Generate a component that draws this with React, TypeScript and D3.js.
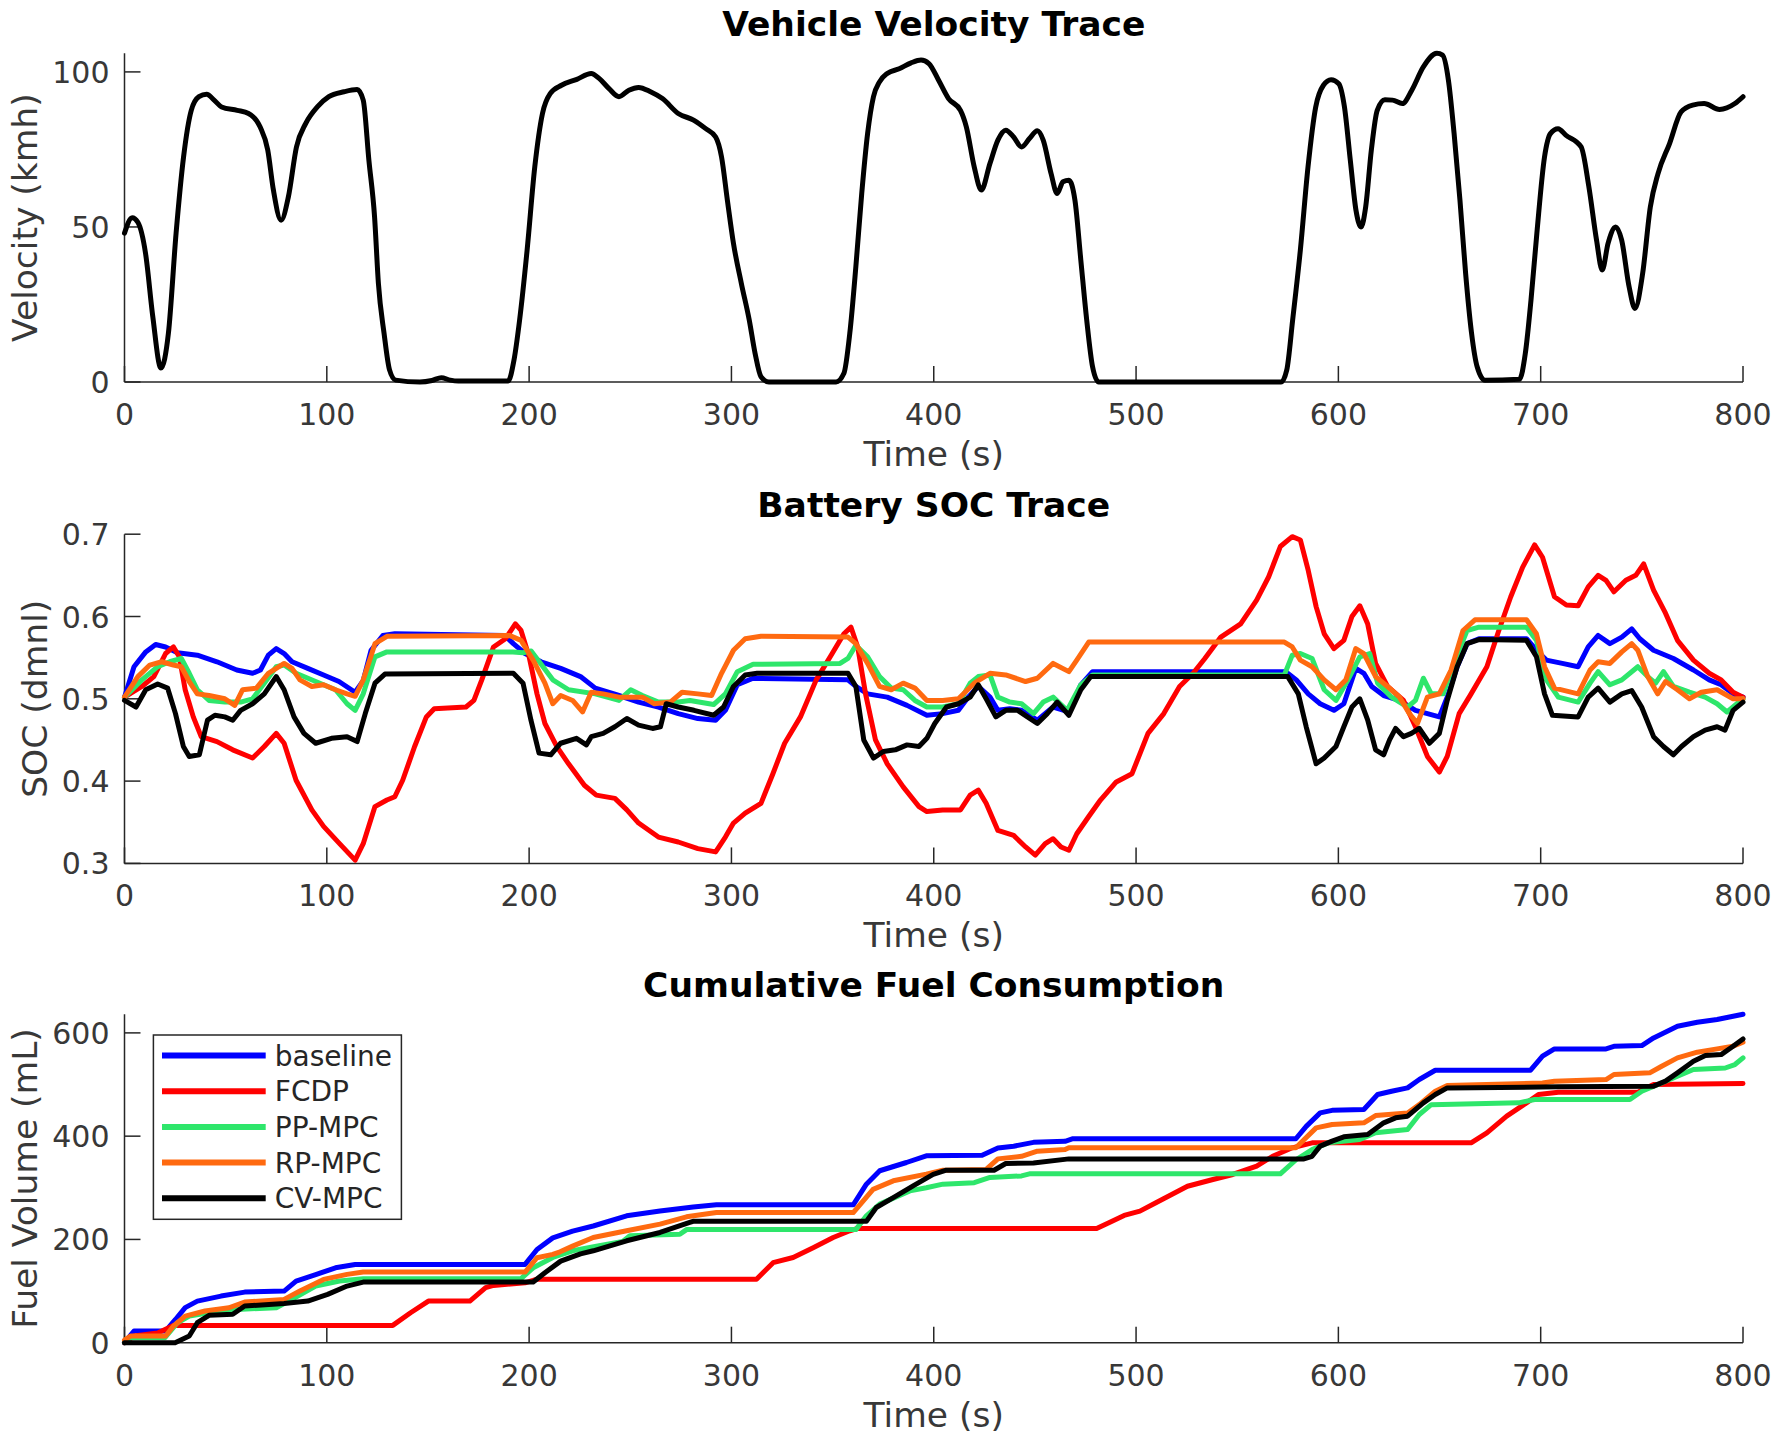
import * as d3 from 'd3';

type Pt = [number, number];

// ---- data ----
const timeTicks = [0, 100, 200, 300, 400, 500, 600, 700, 800];
const velocityTicks = [0, 50, 100];
const socTicks = [0.3, 0.4, 0.5, 0.6, 0.7];
const fuelTicks = [0, 200, 400, 600];
const seriesNames = ['baseline', 'FCDP', 'PP-MPC', 'RP-MPC', 'CV-MPC'];

const velocity: Pt[] = [
  [0, 48], [3.8, 53], [6.6, 51.5], [10.4, 41.5], [14, 21], [18, 4.5], [21.7, 15.7], [25.5, 48], [29.2, 72.6],
  [33, 87.6], [36.8, 92], [40.6, 92.8], [44.3, 90.9], [48, 88.7], [55.7, 87.6], [61.3, 86.6], [67, 82.3],
  [70.8, 74.8], [73.6, 61.9], [77.4, 52.2], [81, 59.7], [85, 75.8], [89.6, 83.4], [95.3, 88.7], [101, 92],
  [108.5, 93.6], [115, 94.3], [118, 90.9], [120.8, 71.5], [123.6, 53.3], [125.5, 31.8], [128.3, 15.7],
  [131, 3.9], [134, 0.6], [146, 0], [152, 0.5], [156.6, 1.4], [161, 0.6], [165, 0.3], [189.6, 0.3],
  [192.5, 7], [195.3, 20], [199, 42.5], [202.8, 69.4], [206.6, 86.6], [210.4, 93], [216, 95.7], [223.6, 97.6],
  [230.7, 99.5], [234.6, 97.9], [239.5, 94.6], [244.4, 92], [249.3, 94.1], [254.1, 95], [260, 93.6],
  [265.9, 91.4], [273.7, 86.6], [281.5, 84.4], [287.3, 81.7], [292.2, 79], [295.1, 72.6], [298, 58.6],
  [301, 44.7], [304.9, 31.8], [308.8, 20], [311.7, 9.2], [314.6, 1.7], [318.5, 0], [351.7, 0], [355.6, 2.8],
  [358.5, 15.7], [361.5, 37.2], [364.4, 60.8], [367.3, 80.1], [370.2, 92], [373.2, 96.8], [377, 99.5],
  [382.9, 101], [388.8, 102.9], [393.7, 103.8], [397.6, 102.7], [402.4, 97.3], [407.3, 91.4], [413.2, 87.6],
  [416.1, 82.3], [420, 69.4], [423.5, 61.9], [427.8, 70.5], [431.7, 78], [435.6, 81.2], [439.5, 79],
  [443.4, 75.8], [447.3, 78.5], [451.2, 81], [454.1, 78], [458, 67.2], [461, 60.8], [463.9, 64.6],
  [466.8, 65.1], [469.8, 58.6], [472.7, 39.3], [475.6, 20], [478.5, 4.9], [481.5, 0], [571.7, 0],
  [574.5, 3.9], [577.4, 20], [581.2, 42.5], [585, 69.4], [588.8, 88.7], [592.6, 95.7], [596.4, 97.5],
  [600.2, 96.2], [603, 88.7], [605.9, 71.5], [608.7, 55.4], [611.2, 50], [613.5, 56.5], [616.3, 74.8],
  [619.2, 87.6], [623, 91], [626.8, 90.9], [631.6, 89.8], [636.3, 94.1], [642, 101.6], [648.7, 106],
  [651.5, 105.4], [654.4, 97.3], [657.2, 80.1], [660.1, 58.6], [662.9, 35], [665.8, 15.9], [668.6, 4.9],
  [672.4, 0.6], [689.5, 0.9], [692.4, 9.2], [695.2, 26.4], [698.1, 47.9], [701.9, 72.6], [704.8, 80.1],
  [708.6, 81.7], [712.4, 79.6], [720, 75.8], [723.8, 63], [727.6, 45.8], [730.4, 36.1], [733.3, 44.7],
  [737.1, 50], [740, 45.8], [743.7, 30.7], [746.6, 23.7], [750.4, 35], [754.2, 56.5], [758, 67.2],
  [763.7, 76.9], [769.4, 87.1], [775.1, 89.3], [780.8, 89.8], [788.4, 87.9], [796, 89.8], [800, 92],
];

const socBaseline: Pt[] = [
  [0, 0.502], [4.7, 0.539], [10.5, 0.557], [15.4, 0.566], [20.3, 0.563], [26.2, 0.556], [36, 0.553],
  [45.7, 0.545], [55.5, 0.535], [63.3, 0.531], [67.2, 0.535], [71.1, 0.553], [75, 0.561], [78.9, 0.555],
  [82.8, 0.545], [90.6, 0.537], [98.4, 0.529], [106, 0.521], [114, 0.508], [118, 0.522], [121.9, 0.559],
  [127.7, 0.577], [133.6, 0.579], [188, 0.577], [192.2, 0.567], [198, 0.555], [205.9, 0.545], [215.6, 0.537],
  [225.4, 0.527], [232.7, 0.513], [244.4, 0.504], [254.1, 0.496], [263.9, 0.49], [273.7, 0.482],
  [283.4, 0.476], [292.2, 0.474], [297, 0.486], [302.9, 0.517], [310.7, 0.525], [357.6, 0.523],
  [361.5, 0.515], [367.3, 0.506], [377, 0.502], [386.8, 0.492], [396.6, 0.48], [404.4, 0.482],
  [412.2, 0.486], [417, 0.502], [422, 0.515], [427.8, 0.502], [431.7, 0.486], [437.6, 0.488],
  [443.4, 0.486], [451.2, 0.474], [459, 0.49], [466.8, 0.484], [472.7, 0.517], [478.5, 0.533], [574, 0.533],
  [579.2, 0.523], [585.1, 0.506], [591, 0.494], [597.8, 0.486], [602.7, 0.494], [608.6, 0.537],
  [612.6, 0.531], [616.5, 0.515], [622.4, 0.504], [630.2, 0.498], [638.1, 0.486], [644, 0.482],
  [649.9, 0.478], [653.8, 0.502], [658.7, 0.539], [663.6, 0.567], [669.5, 0.573], [693, 0.573],
  [697.9, 0.559], [702.8, 0.547], [710.7, 0.543], [718.5, 0.539], [723.5, 0.563], [728.4, 0.577],
  [734.2, 0.567], [740.1, 0.575], [745, 0.585], [749, 0.573], [755.8, 0.559], [765.6, 0.549],
  [775.5, 0.535], [783.3, 0.523], [789.2, 0.517], [795.1, 0.506], [800, 0.502],
];

const socFcdp: Pt[] = [
  [0, 0.502], [8.6, 0.515], [14.5, 0.527], [20.3, 0.555], [24.2, 0.563], [27.1, 0.551], [30, 0.511],
  [34, 0.478], [37.9, 0.454], [45.7, 0.448], [53.5, 0.438], [63.3, 0.428], [69.1, 0.442], [75, 0.458],
  [78.9, 0.446], [84.8, 0.401], [92.6, 0.365], [98.4, 0.345], [106.3, 0.324], [114, 0.304], [118, 0.324],
  [123.8, 0.369], [129.7, 0.377], [133.6, 0.381], [137.5, 0.401], [143.4, 0.442], [149.2, 0.478],
  [153.1, 0.488], [168.8, 0.49], [172.7, 0.498], [176.6, 0.523], [182.4, 0.563], [188.3, 0.573],
  [193.2, 0.591], [196, 0.583], [200, 0.551], [203.9, 0.506], [207.8, 0.47], [213.7, 0.442], [219.5, 0.421],
  [227.3, 0.395], [233.2, 0.383], [242.4, 0.379], [248.3, 0.365], [254.1, 0.349], [263.9, 0.332],
  [273.7, 0.326], [283.4, 0.318], [292.2, 0.314], [297, 0.332], [301, 0.349], [306.8, 0.361], [314.6, 0.373],
  [320.5, 0.409], [326.3, 0.446], [334.1, 0.478], [341.9, 0.523], [349.8, 0.555], [355.6, 0.579],
  [359.1, 0.587], [362.4, 0.563], [366.3, 0.506], [371.2, 0.45], [377, 0.421], [384.9, 0.393],
  [392.7, 0.369], [396.6, 0.363], [404.4, 0.365], [413.2, 0.365], [418, 0.383], [422, 0.389], [425.9, 0.373],
  [431.7, 0.34], [439.5, 0.334], [445.4, 0.32], [450.2, 0.31], [455.1, 0.324], [459, 0.33], [462.9, 0.32],
  [466.8, 0.316], [470.7, 0.336], [476.6, 0.357], [482.4, 0.377], [490.2, 0.399], [498, 0.409],
  [505.9, 0.458], [513.7, 0.482], [521.5, 0.515], [528.2, 0.531], [534, 0.549], [541.9, 0.575],
  [551.7, 0.591], [559.6, 0.62], [565.5, 0.648], [571.3, 0.685], [577.2, 0.697], [581.2, 0.693],
  [585.1, 0.656], [589, 0.612], [593, 0.579], [597.8, 0.561], [602.7, 0.571], [606.7, 0.6], [610.6, 0.613],
  [614.5, 0.591], [618.4, 0.543], [624.3, 0.515], [632.2, 0.498], [638.1, 0.466], [644, 0.43],
  [649.9, 0.411], [653.8, 0.43], [659.7, 0.482], [665.6, 0.506], [673.4, 0.539], [679.3, 0.583],
  [685.2, 0.624], [691.1, 0.66], [697, 0.687], [700.9, 0.672], [706.8, 0.624], [712.7, 0.614],
  [718.5, 0.613], [723.5, 0.636], [728.4, 0.65], [732.3, 0.644], [736.2, 0.63], [742.1, 0.644], [747, 0.65],
  [750.9, 0.664], [755.8, 0.632], [761.7, 0.604], [767.6, 0.571], [775.5, 0.547], [783.3, 0.531],
  [789.2, 0.523], [795.1, 0.508], [800, 0.502],
];

const socPp: Pt[] = [
  [0, 0.502], [8.6, 0.523], [16.4, 0.539], [22.3, 0.545], [28.1, 0.549], [32, 0.531], [36, 0.511],
  [41.8, 0.498], [49.6, 0.496], [57.4, 0.496], [63.3, 0.5], [69.1, 0.519], [75, 0.539], [78.9, 0.541],
  [84.8, 0.531], [94.5, 0.521], [104.3, 0.511], [110, 0.494], [114, 0.486], [118, 0.506], [123.8, 0.551],
  [129.7, 0.557], [192, 0.557], [197, 0.556], [201, 0.558], [205, 0.545], [211.7, 0.523], [219.5, 0.511],
  [232.7, 0.506], [244.4, 0.498], [250.2, 0.511], [256, 0.504], [263.9, 0.496], [273.7, 0.496],
  [279.5, 0.498], [291.2, 0.493], [297, 0.506], [302.9, 0.533], [310.7, 0.542], [353.7, 0.543],
  [357.6, 0.549], [361.5, 0.565], [367.3, 0.551], [373.2, 0.527], [379, 0.513], [384.9, 0.511],
  [390.7, 0.498], [396.6, 0.49], [404.4, 0.49], [412.2, 0.494], [418, 0.519], [422, 0.527], [427.8, 0.529],
  [431.7, 0.502], [437.6, 0.496], [443.4, 0.494], [449.3, 0.482], [454.1, 0.496], [459, 0.502],
  [465.9, 0.486], [472.7, 0.517], [478.5, 0.529], [573.3, 0.529], [577.2, 0.553], [581.2, 0.555],
  [587, 0.549], [593, 0.511], [598.8, 0.498], [604.7, 0.523], [610.6, 0.551], [615.5, 0.555],
  [619.4, 0.519], [626.3, 0.502], [634.2, 0.49], [638.1, 0.498], [642, 0.525], [645.9, 0.506],
  [651.8, 0.506], [657.7, 0.547], [663.6, 0.583], [669.5, 0.587], [693, 0.587], [697.9, 0.571],
  [702.8, 0.523], [708.7, 0.502], [718.5, 0.496], [724.4, 0.519], [728.4, 0.533], [734.2, 0.517],
  [740.1, 0.523], [748, 0.539], [752.9, 0.527], [756.8, 0.519], [760.7, 0.533], [765.6, 0.515],
  [773.5, 0.508], [781.3, 0.502], [787.2, 0.494], [792.1, 0.484], [797, 0.494], [800, 0.5],
];

const socRp: Pt[] = [
  [0, 0.502], [6.6, 0.527], [12.5, 0.541], [18.4, 0.545], [24.2, 0.541], [28.1, 0.539], [32, 0.521],
  [36, 0.506], [41.8, 0.504], [49.6, 0.5], [54.5, 0.492], [58.4, 0.511], [65.2, 0.513], [71.1, 0.531],
  [78.9, 0.543], [82.8, 0.537], [86.7, 0.523], [92.6, 0.515], [98.4, 0.517], [104.3, 0.511], [110, 0.506],
  [114, 0.503], [118, 0.523], [123.8, 0.567], [129.7, 0.576], [190.2, 0.577], [196, 0.571], [202, 0.547],
  [207.8, 0.519], [211.7, 0.494], [215.6, 0.504], [221.5, 0.498], [226.4, 0.484], [230.7, 0.508],
  [236.6, 0.506], [244.4, 0.502], [256, 0.502], [261.9, 0.494], [269.8, 0.496], [275.6, 0.508],
  [283.4, 0.506], [290.2, 0.504], [295.1, 0.531], [301, 0.559], [306.8, 0.573], [314.6, 0.576],
  [357.6, 0.575], [361.5, 0.567], [367.3, 0.543], [373.2, 0.515], [379, 0.511], [384.9, 0.519],
  [390.7, 0.513], [396.6, 0.498], [404.4, 0.498], [412.2, 0.5], [420, 0.519], [427.8, 0.531],
  [435.6, 0.529], [445.4, 0.521], [451.2, 0.525], [459, 0.543], [466.8, 0.533], [470.7, 0.547],
  [476.6, 0.569], [573.3, 0.569], [577.2, 0.563], [581.2, 0.547], [587, 0.539], [593, 0.523],
  [598.8, 0.511], [603.7, 0.523], [608.6, 0.561], [612.6, 0.555], [618.4, 0.527], [624.3, 0.515],
  [630.2, 0.502], [635.1, 0.482], [639.1, 0.47], [644, 0.502], [649.9, 0.506], [655.7, 0.535],
  [661.6, 0.583], [667.5, 0.596], [693, 0.596], [697.9, 0.579], [701.9, 0.539], [706.8, 0.513],
  [718.5, 0.506], [724.4, 0.535], [728.4, 0.545], [734.2, 0.543], [740.1, 0.557], [745, 0.567],
  [748, 0.559], [752.9, 0.527], [757.8, 0.506], [761.7, 0.521], [767.6, 0.511], [773.5, 0.5],
  [779.4, 0.508], [787.2, 0.511], [795.1, 0.5], [800, 0.5],
];

const socCv: Pt[] = [
  [0, 0.498], [5.7, 0.49], [10.5, 0.511], [16.4, 0.518], [21.3, 0.513], [25.2, 0.482], [29.1, 0.442],
  [32, 0.43], [37, 0.432], [41, 0.474], [44.7, 0.48], [49.6, 0.478], [53.5, 0.474], [57.4, 0.486],
  [63.3, 0.494], [69.1, 0.506], [75, 0.527], [78.9, 0.511], [83.8, 0.478], [88.7, 0.458], [94.5, 0.446],
  [102.3, 0.452], [110, 0.454], [115, 0.448], [119, 0.482], [123.8, 0.519], [128.7, 0.53], [192.2, 0.531],
  [197, 0.519], [200.9, 0.474], [204.9, 0.434], [210.7, 0.432], [215.6, 0.446], [223.4, 0.452],
  [228.3, 0.444], [230.7, 0.454], [236.6, 0.458], [242.4, 0.466], [248.3, 0.476], [254.1, 0.468],
  [261, 0.464], [264.9, 0.466], [267.8, 0.494], [273.7, 0.49], [281.5, 0.486], [291.2, 0.48],
  [296.1, 0.49], [301, 0.515], [306.8, 0.529], [312.7, 0.531], [357.6, 0.531], [361.5, 0.515],
  [365.4, 0.45], [370.2, 0.428], [375.1, 0.436], [381, 0.438], [386.8, 0.444], [392.7, 0.442],
  [396.6, 0.452], [400.5, 0.47], [406.3, 0.49], [412.2, 0.494], [418, 0.502], [422, 0.517], [425.9, 0.5],
  [430.7, 0.478], [435.6, 0.486], [441.5, 0.486], [446.3, 0.478], [451.2, 0.47], [456.1, 0.482],
  [461, 0.496], [466.8, 0.48], [472.7, 0.511], [477.6, 0.527], [575, 0.527], [580.2, 0.506],
  [584.1, 0.466], [589, 0.421], [593, 0.428], [598.8, 0.442], [602.7, 0.466], [606.7, 0.49],
  [610.6, 0.5], [614.5, 0.474], [618.4, 0.438], [622.4, 0.432], [625.3, 0.45], [628.3, 0.464],
  [632.2, 0.454], [636.1, 0.458], [640, 0.464], [645, 0.446], [649.9, 0.458], [653.8, 0.498],
  [658.7, 0.539], [663.6, 0.567], [669.5, 0.572], [693, 0.571], [697.9, 0.551], [701.9, 0.506],
  [705.8, 0.48], [718.5, 0.478], [723.5, 0.502], [728.4, 0.513], [734.2, 0.496], [740.1, 0.506],
  [745, 0.51], [749.9, 0.49], [755.8, 0.454], [760.7, 0.442], [765.6, 0.432], [769.6, 0.442],
  [775.5, 0.454], [781.3, 0.462], [787.2, 0.466], [791.1, 0.462], [795.1, 0.486], [800, 0.496],
];

const fuelBaseline: Pt[] = [
  [0, 0], [4.7, 22.6], [20.3, 22.6], [25.2, 45], [30, 68], [36, 80.6], [47.7, 90.3], [59.4, 98], [78.9, 100],
  [84.8, 119.4], [94.5, 132], [104.3, 145], [114, 151.6], [198, 151.6], [203.9, 180.6], [211.7, 203],
  [221.5, 216], [231.7, 226], [248.2, 245.7], [264.7, 255], [281.1, 263], [292.6, 267], [360.2, 267],
  [366.7, 307], [373.3, 333], [386.5, 349], [396.3, 362], [423.9, 363], [431.7, 377], [439.5, 380.6],
  [449.3, 388], [464.9, 390], [468.8, 395], [579, 395], [584.1, 419], [591, 445], [596.9, 450],
  [612.6, 451.6], [619.4, 480.6], [626.3, 487], [634.2, 493.5], [640, 509.7], [647.9, 527.7], [695, 527.7],
  [700.9, 554.8], [706.8, 569], [732.3, 569], [736.2, 574], [750, 575.5], [755.8, 590.3], [767.6, 613],
  [777.4, 620.6], [787.2, 625.8], [800, 636],
];

const fuelFcdp: Pt[] = [
  [0, 0], [4.7, 13], [16.4, 19], [24.2, 33.5], [132.6, 33.5], [141.4, 58], [150.2, 80.6], [170.7, 80.6],
  [178.5, 106.5], [182.4, 111], [198, 116], [203.9, 123], [312.4, 123], [320.6, 155], [330.5, 165],
  [340.4, 184], [350.3, 203.7], [358.5, 216.7], [362, 221], [480.5, 221], [486.3, 232], [494.1, 246.5],
  [501.9, 254.8], [509.8, 271], [517.6, 287], [525.4, 303], [538, 316], [547.8, 325.8], [559.6, 342],
  [567.5, 361], [577.2, 377.4], [587, 387], [665.6, 387], [673.4, 406.5], [683.2, 438.7], [693, 464.5],
  [698.9, 480.6], [708.7, 485], [748, 485], [755.8, 500], [800, 502],
];

const fuelPp: Pt[] = [
  [0, 0], [3, 9.7], [20, 9.7], [26.2, 38.7], [32, 51.6], [41.8, 58], [55.5, 64.5], [75, 67.7], [82.8, 83.9],
  [94.5, 109.7], [106.3, 119.4], [118, 123.9], [196, 123.9], [202, 145], [211.7, 165], [221.5, 178],
  [234.6, 188], [246.3, 196], [249.8, 207], [274.5, 210], [277.8, 219], [361.5, 219], [366.7, 245.7],
  [373.3, 268.4], [388.2, 294], [396.3, 300], [404.5, 307], [420, 310], [427.8, 320], [443.4, 323],
  [447.3, 327], [571.3, 327], [579.2, 354.8], [587, 374], [594.9, 387], [610.6, 393.5], [618.4, 406.5],
  [634.2, 413], [640, 442], [645.9, 461], [689.1, 464.5], [697, 471], [744.1, 471], [750, 487],
  [759.8, 503], [767.6, 516], [775.5, 529], [791.2, 532], [796, 538.7], [800, 551.6],
];

const fuelRp: Pt[] = [
  [0, 5], [3, 12.9], [20.3, 12.9], [24.2, 32.3], [30, 51.6], [39.8, 61.3], [51.6, 67.7], [59.4, 78.7],
  [78.9, 83.9], [86.7, 100], [98.4, 122.6], [110, 132.3], [118, 136.8], [198, 136.8], [203.9, 164.5],
  [211.7, 171], [215.3, 176], [221.5, 187], [231.7, 203.8], [248.2, 216.7], [264.7, 229.6], [277.8, 243.8],
  [292.6, 252], [360.2, 252], [370, 297], [380, 313.5], [396.3, 326.4], [404.5, 334], [425.9, 335.5],
  [431.7, 356], [443.4, 361], [451.2, 371], [464.9, 374], [466.8, 377.4], [579, 377.4], [583.1, 393.5],
  [589, 416], [596.9, 422.6], [612.6, 425.8], [618.4, 440], [634.2, 445], [640, 461], [647.9, 487],
  [653.8, 498], [700.9, 503], [706.8, 506.5], [732.3, 509.7], [736.2, 519.4], [753.9, 522.6],
  [759.8, 535.5], [767.6, 551.6], [777.4, 562.6], [787.2, 569], [795.1, 574], [800, 582],
];

const fuelCv: Pt[] = [
  [0, 0], [25, 0], [32, 13], [36, 38.7], [41.8, 53], [53.5, 55], [59.4, 71], [78.9, 76], [90.6, 80.6],
  [100.4, 93.5], [110, 109.7], [118, 117.4], [202, 117.4], [207.8, 135.5], [215.6, 158], [225.4, 172],
  [231.7, 178], [248.2, 197.4], [264.7, 213.5], [279.4, 232.8], [281, 235], [366.7, 235], [371.6, 261.8],
  [380, 281], [389.8, 303.8], [399.7, 326], [406.2, 334], [429.8, 334], [435.6, 347], [449.3, 348],
  [466.8, 356], [583, 356], [587, 361], [591, 380.6], [596.9, 390.3], [602.7, 398.7], [614.5, 403],
  [622.4, 425.8], [628.3, 435.5], [634.2, 438.7], [642, 464.5], [647.9, 480.6], [653.8, 493.5],
  [708.7, 495.5], [755.8, 496.8], [761.7, 506.5], [767.6, 522.6], [775.5, 545], [781.4, 556],
  [789.2, 558], [795.1, 574], [800, 588.4],
];

// ---- layout / style ----
const W = 1784;
const H = 1446;
const LEFT = 124.5;
const RIGHT = 1743;
const FONT = '"DejaVu Sans", Verdana, sans-serif';
const AXIS = '#262626';
const COLORS = ['#0000ff', '#ff0000', '#2ee66b', '#ff6a10', '#000000'];
const LW = 5;
const TICK = 16;

const x = d3.scaleLinear().domain([0, 800]).range([LEFT, RIGHT]);

interface PanelCfg {
  top: number;
  bottom: number;
  domain: [number, number];
  ticks: number[];
  fmt: (v: number) => string;
  title: string;
  ylabel: string;
  ylabelX: number;
  series: { data: Pt[]; color: string }[];
  curve: d3.CurveFactory;
}

function Panel({ cfg }: { cfg: PanelCfg }) {
  const y = d3.scaleLinear().domain(cfg.domain).range([cfg.bottom, cfg.top]);
  const line = d3.line<Pt>()
    .x(d => x(d[0]))
    .y(d => y(d[1]))
    .curve(cfg.curve);
  const cx = (LEFT + RIGHT) / 2;
  const cy = (cfg.top + cfg.bottom) / 2;

  return (
    <g>
      {/* axes */}
      <line x1={LEFT} x2={LEFT} y1={cfg.top} y2={cfg.bottom} stroke={AXIS} strokeWidth={1.5} />
      <line x1={LEFT} x2={RIGHT} y1={cfg.bottom} y2={cfg.bottom} stroke={AXIS} strokeWidth={1.5} />
      {timeTicks.map(t => (
        <g key={'x' + t}>
          <line x1={x(t)} x2={x(t)} y1={cfg.bottom} y2={cfg.bottom - TICK} stroke={AXIS} strokeWidth={1.5} />
          <text x={x(t)} y={cfg.bottom + 43} textAnchor="middle" fontSize={30} fill="#383838" fontFamily={FONT}>{t}</text>
        </g>
      ))}
      {cfg.ticks.map(v => (
        <g key={'y' + v}>
          <line x1={LEFT} x2={LEFT + TICK} y1={y(v)} y2={y(v)} stroke={AXIS} strokeWidth={1.5} />
          <text x={LEFT - 15} y={y(v) + 11} textAnchor="end" fontSize={30} fill="#383838" fontFamily={FONT}>{cfg.fmt(v)}</text>
        </g>
      ))}
      {/* data */}
      {cfg.series.map((s, i) => (
        <path key={i} d={line(s.data) ?? ''} fill="none" stroke={s.color} strokeWidth={LW}
          strokeLinejoin="round" strokeLinecap="round" />
      ))}
      {/* labels */}
      <text x={cx} y={cfg.top - 17} textAnchor="middle" fontSize={34.5} fontWeight="bold" fill="#000" fontFamily={FONT}>{cfg.title}</text>
      <text x={cx} y={cfg.bottom + 84} textAnchor="middle" fontSize={34.5} fill="#383838" fontFamily={FONT}>Time (s)</text>
      <text transform={`translate(${cfg.ylabelX},${cy}) rotate(-90)`} textAnchor="middle" fontSize={34.5} fill="#383838" fontFamily={FONT}>{cfg.ylabel}</text>
    </g>
  );
}

export default function App() {
  const soc = [socBaseline, socFcdp, socPp, socRp, socCv];
  const fuel = [fuelBaseline, fuelFcdp, fuelPp, fuelRp, fuelCv];

  const panels: PanelCfg[] = [
    {
      top: 53.3, bottom: 382, domain: [0, 106], ticks: velocityTicks, fmt: v => String(v),
      title: 'Vehicle Velocity Trace', ylabel: 'Velocity (kmh)', ylabelX: 36.5,
      series: [{ data: velocity, color: '#000' }], curve: d3.curveMonotoneX,
    },
    {
      top: 534.2, bottom: 863.4, domain: [0.3, 0.7], ticks: socTicks, fmt: d3.format('.1f'),
      title: 'Battery SOC Trace', ylabel: 'SOC (dmnl)', ylabelX: 46.5,
      series: soc.map((d, i) => ({ data: d, color: COLORS[i] })), curve: d3.curveLinear,
    },
    {
      top: 1014.3, bottom: 1342.7, domain: [0, 636], ticks: fuelTicks, fmt: v => String(v),
      title: 'Cumulative Fuel Consumption', ylabel: 'Fuel Volume (mL)', ylabelX: 37,
      series: fuel.map((d, i) => ({ data: d, color: COLORS[i] })), curve: d3.curveLinear,
    },
  ];

  const legendRow = (i: number) => 1055.5 + i * 35.7;

  return (
    <svg width={W} height={H} viewBox={`0 0 ${W} ${H}`}
      style={{ position: 'absolute', left: 0, top: 0, background: '#fff', display: 'block' }}>
      <rect width={W} height={H} fill="#fff" />
      {panels.map((p, i) => <Panel key={i} cfg={p} />)}
      {/* legend */}
      <g>
        <rect x={153.4} y={1035} width={248} height={184.3} fill="#fff" stroke={AXIS} strokeWidth={1.5} />
        {seriesNames.map((name, i) => (
          <g key={name}>
            <line x1={162} x2={265.7} y1={legendRow(i)} y2={legendRow(i)} stroke={COLORS[i]} strokeWidth={6} />
            <text x={274.8} y={legendRow(i) + 10} fontSize={28} fill="#262626" fontFamily={FONT}>{name}</text>
          </g>
        ))}
      </g>
    </svg>
  );
}
